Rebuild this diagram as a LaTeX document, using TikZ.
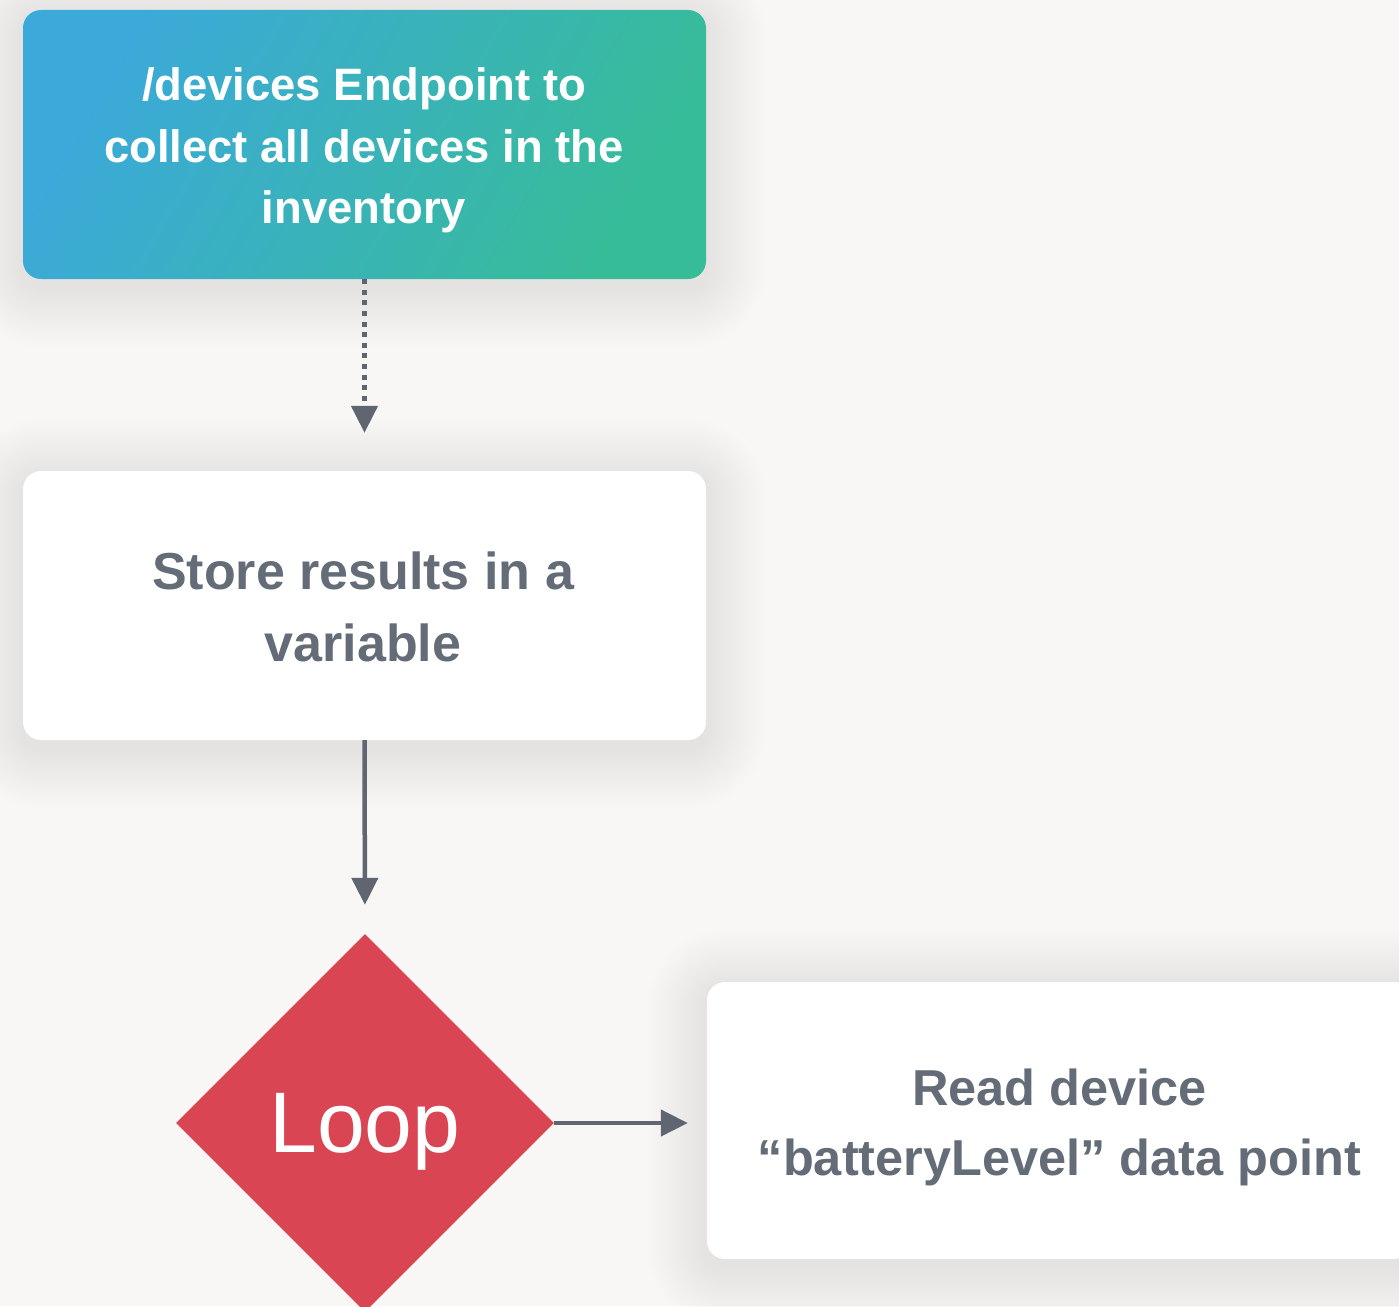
\documentclass[tikz,border=0pt]{standalone}
\usepackage{fontspec}
\setmainfont{Liberation Sans}
\usetikzlibrary{arrows.meta,shapes.geometric}
\definecolor{canvas}{HTML}{F8F7F6}
\definecolor{ink}{HTML}{646C77}
\definecolor{wire}{HTML}{5F6671}
\definecolor{loopred}{HTML}{D94553}
\definecolor{gradA}{HTML}{3BA9DA}
\definecolor{gradB}{HTML}{37BC98}
\pgfdeclarelayer{back}
\pgfsetlayers{back,main}

% soft drop shadow under a card: stacked, faint rounded rectangles
\newcommand\cardshadow[1]{%
  \foreach \k in {1,...,20}{%
    \pgfmathsetmacro\dd{3*\k}%
    \pgfmathsetmacro\rr{18+3*\k}%
    \pgfmathsetmacro\ylo{-\dd-8}%
    \pgfmathsetmacro\yhi{\dd-8}%
    \fill[black!80!brown, opacity=0.0026, rounded corners=\rr pt]
      ([xshift=-\dd pt, yshift=\ylo pt]#1.south west) rectangle
      ([xshift=\dd pt, yshift=\yhi pt]#1.north east);
  }}

\begin{document}
\begin{tikzpicture}[x=1pt,y=-1pt,
  card/.style={rectangle, rounded corners=18pt, minimum width=683pt,
    minimum height=269pt, inner sep=0pt},
  cardtext/.style={text=ink, font=\bfseries\fontsize{52pt}{72pt}\selectfont,
    align=center, inner sep=0pt},
  flow/.style={draw=wire, line width=4.5pt,
    -{Triangle[length=27pt,width=26pt]}},
]
\useasboundingbox (0,0) rectangle (1399,1306);

% step 1: endpoint call
\node[card, left color=gradA, right color=gradB, shading angle=60]
  (fetch) at (364.5,144.5) {};
\node[cardtext, text=white, font=\bfseries\fontsize{45.4pt}{61.6pt}\selectfont]
  (fetchtext) at (364,150.6)
  {/devices Endpoint to\\collect all devices in the\\inventory};

% step 2: keep the result
\node[card, fill=white] (store) at (364.5,605.5) {};
\node[cardtext] (storetext) at (363,607) {Store results in a\\variable};

% loop decision
\node[diamond, fill=loopred, minimum width=378pt, minimum height=378pt,
  inner sep=0pt, text=white, font=\fontsize{86pt}{100pt}\selectfont,
  text depth=0pt] (loop) at (365,1123) {Loop};

% step 3: read the data point
\node[card, fill=white, minimum width=705pt, minimum height=277pt]
  (read) at (1059.5,1120.5) {};
\node[cardtext, font=\bfseries\fontsize{50.5pt}{69.5pt}\selectfont]
  (readtext) at (1059.5,1127.5)
  {Read device\\“batteryLevel” data point};

% connectors
\draw[flow, dash pattern=on 5pt off 5.6pt, shorten >=38pt]
  (fetch.south) -- (store.north);
\draw[flow, shorten >=29pt] (store.south) -- (loop.north);
\draw[flow, shorten >=19pt] (loop.east) -- (loop.east -| read.west);

% page background and card shadows
\begin{pgfonlayer}{back}
  \fill[canvas] (0,0) rectangle (1399,1306);
  \cardshadow{fetch}
  \cardshadow{store}
  \cardshadow{read}
\end{pgfonlayer}
\end{tikzpicture}
\end{document}
